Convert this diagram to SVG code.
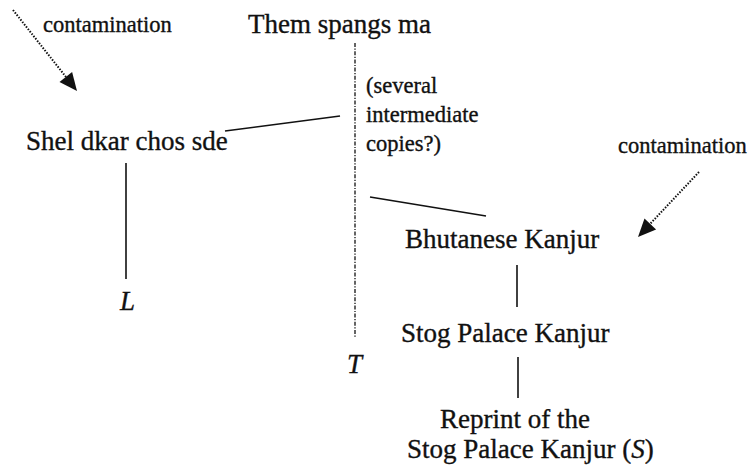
<svg xmlns="http://www.w3.org/2000/svg" width="751" height="465" viewBox="0 0 751 465">
  <style>
    text { font-family: "Liberation Serif", "Times New Roman", serif; fill: #111; stroke: #111; stroke-width: 0.35; }
    .main { font-size: 27px; }
    .small { font-size: 22.5px; }
    .it { font-style: italic; }
    .solid { stroke: #111; stroke-width: 1.6; fill: none; }
    .dotted { stroke: #111; stroke-width: 2; stroke-dasharray: 1.5 1.5; fill: none; }
    .dashdot { stroke: #222; stroke-width: 1.4; stroke-dasharray: 4 1.5 1.2 1.5; fill: none; }
    .head { fill: #111; stroke: none; }
  </style>
  <rect width="751" height="465" fill="#fff"/>
  <g id="connectors">
    <line class="dashdot" x1="355" y1="43" x2="355" y2="338"/>
    <line class="solid" x1="225" y1="131" x2="340" y2="116"/>
    <line class="solid" x1="370" y1="197" x2="486" y2="216"/>
    <line class="solid" x1="126" y1="163" x2="126" y2="279"/>
    <line class="solid" x1="517" y1="265" x2="517" y2="307"/>
    <line class="solid" x1="518" y1="357" x2="518" y2="398"/>
    <line class="dotted" x1="13" y1="10" x2="66" y2="77"/>
    <polygon class="head" points="77,91 72.1,71.9 59.5,81.9"/>
    <line class="dotted" x1="699" y1="172" x2="650" y2="224"/>
    <polygon class="head" points="638,237 656.1,229.4 644.5,218.4"/>
  </g>
  <g id="contamination-left"><text class="small" x="43" y="32">contamination</text></g>
  <g id="them-spangs-ma"><text class="main" x="248" y="33">Them spangs ma</text></g>
  <g id="intermediate-copies">
    <text class="small" x="366" y="93">(several</text>
    <text class="small" x="366" y="122">intermediate</text>
    <text class="small" x="366" y="151">copies?)</text>
  </g>
  <g id="shel-dkar"><text class="main" x="26" y="150">Shel dkar chos sde</text></g>
  <g id="contamination-right"><text class="small" x="618" y="153">contamination</text></g>
  <g id="bhutanese"><text class="main" x="405" y="248">Bhutanese Kanjur</text></g>
  <g id="L"><text class="main it" x="120" y="310">L</text></g>
  <g id="stog"><text class="main" x="401" y="342">Stog Palace Kanjur</text></g>
  <g id="T"><text class="main it" x="347" y="373">T</text></g>
  <g id="reprint">
    <text class="main" x="440" y="428">Reprint of the</text>
    <text class="main" x="407" y="458">Stog Palace Kanjur (<tspan class="it">S</tspan>)</text>
  </g>
</svg>
